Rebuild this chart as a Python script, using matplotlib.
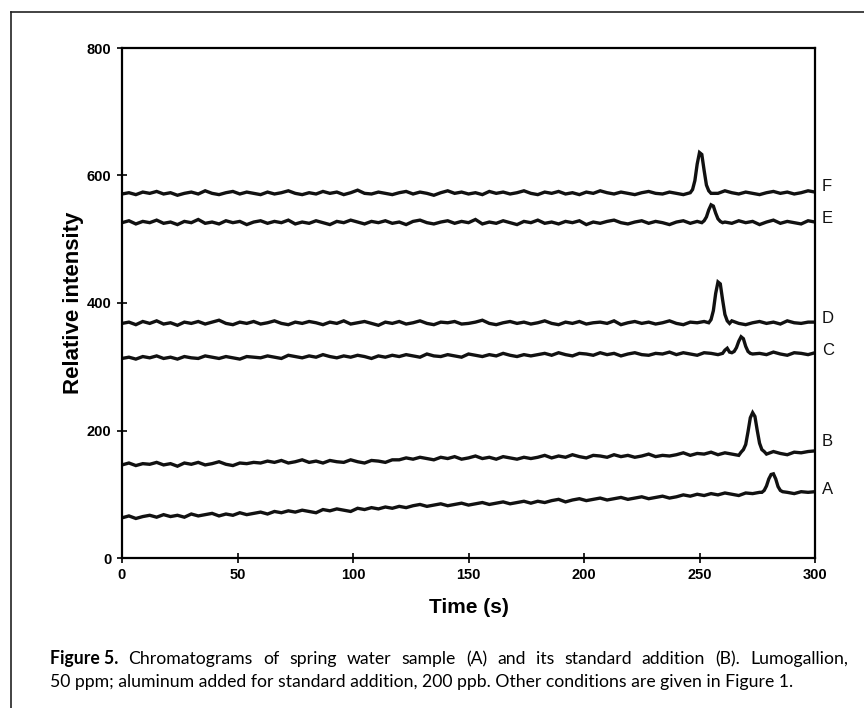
import numpy as np
import matplotlib
matplotlib.use("Agg")
import matplotlib.pyplot as plt
from matplotlib.lines import Line2D

# baseline readings every 3 s (0..300 s)
t_base = np.arange(0, 301, 3)

F_base = [571,573,570,574,572,575,571,573,569,572,574,571,576,572,570,573,575,571,574,572,
          570,574,571,573,576,572,570,573,571,575,572,574,570,573,577,572,571,574,572,570,
          573,575,571,574,572,569,573,576,572,574,571,573,570,575,572,574,571,573,576,572,
          570,574,572,575,571,573,570,574,572,576,573,571,574,572,570,573,575,572,571,574,
          572,570,573,575,571,574,572,576,573,571,574,572,570,573,575,572,574,571,573,576, 574]
E_base = [526,529,524,528,526,530,525,527,523,528,526,531,525,527,524,529,526,528,523,527,
          529,525,528,526,530,524,527,525,529,526,523,528,526,530,527,524,528,526,529,525,
          527,523,528,530,526,524,527,529,525,528,526,531,524,527,525,529,526,523,528,526,
          530,525,527,524,528,526,529,523,527,525,528,530,526,524,527,529,525,528,526,523,
          527,529,525,528,526,530,524,527,525,529,526,528,523,527,530,525,528,526,524,529, 527]
D_base = [368,370,366,371,368,372,367,369,365,370,368,371,367,370,373,368,366,370,368,371,
          367,369,372,368,366,370,368,371,369,366,370,368,372,367,369,371,368,365,370,368,
          371,367,369,372,368,366,370,369,371,367,368,370,373,368,366,369,371,368,370,367,
          369,372,368,366,370,368,371,367,369,370,368,372,366,369,371,368,370,367,369,372,
          368,366,370,369,371,367,368,370,372,368,366,369,371,368,370,367,372,369,368,370, 370]
C_base = [313,315,312,316,314,317,313,315,312,316,314,313,317,315,313,316,314,312,316,315,
          314,317,315,313,318,316,314,317,315,319,316,314,317,315,318,316,313,317,315,318,
          316,319,317,315,320,317,316,319,317,315,320,318,316,319,317,321,318,316,319,317,
          319,321,318,322,319,317,321,320,318,322,319,321,317,320,322,319,318,321,320,323,
          319,322,320,318,322,321,319,323,320,318,322,320,321,319,323,320,318,322,321,319, 322]
B_base = [146,149,145,148,147,150,146,148,144,149,147,150,146,148,151,147,145,149,148,150,
          149,152,150,153,149,151,154,150,152,149,153,151,150,154,151,149,153,152,150,154,
          154,157,155,158,156,154,158,156,159,155,157,160,156,158,155,159,157,155,158,156,
          158,161,157,160,158,162,159,157,161,160,158,162,159,161,158,160,163,159,161,160,
          162,165,161,164,163,166,162,165,163,161,165,164,166,163,167,164,162,166,165,167, 168]
A_base = [63,66,62,65,67,64,68,65,67,64,69,66,68,70,66,69,67,71,68,70,
          72,69,73,71,74,72,75,73,71,76,74,77,75,73,78,76,79,77,80,78,
          81,79,82,84,81,83,85,82,84,86,83,85,87,84,86,88,85,87,89,86,
          89,87,90,92,88,91,93,90,92,94,91,93,95,92,94,96,93,95,97,94,
          96,99,97,100,98,101,99,102,100,98,102,101,103,100,104,102,103,101,104,103, 104]

# peak regions, sampled every 1 s
F_pk_t = [246,247,248,249,250,251,252,253,254,255]
F_pk_y = [573,578,592,618,636,633,608,585,576,572]
E_pk_t = [251,252,253,254,255,256,257,258,259,260]
E_pk_y = [526,529,535,546,554,552,541,532,528,526]
D_pk_t = [254,255,256,257,258,259,260,261,262,263]
D_pk_y = [369,374,388,415,433,430,405,382,372,368]
C_pk_t = [260,261,262,263,264,265,266,267,268,269,270,271,272]
C_pk_y = [321,326,329,323,322,324,330,340,347,344,332,324,321]
B_pk_t = [268,269,270,271,272,273,274,275,276,277,278]
B_pk_y = [166,170,178,198,220,228,222,200,180,170,167]
A_pk_t = [277,278,279,280,281,282,283,284,285,286]
A_pk_y = [103,106,113,124,131,132,124,112,106,104]

labels = ["F", "E", "D", "C", "B", "A"]
label_y = [583, 532, 376, 325, 182, 107]

traces = [(F_base, F_pk_t, F_pk_y), (E_base, E_pk_t, E_pk_y), (D_base, D_pk_t, D_pk_y),
          (C_base, C_pk_t, C_pk_y), (B_base, B_pk_t, B_pk_y), (A_base, A_pk_t, A_pk_y)]

caption_bold = "Figure 5."
caption_1 = "Chromatograms of spring water sample (A) and its standard addition (B). Lumogallion,"
caption_2 = "50 ppm; aluminum added for standard addition, 200 ppb. Other conditions are given in Figure 1."


def merge(base, pk_t, pk_y):
    base = np.asarray(base, float)
    keep = (t_base < min(pk_t)) | (t_base > max(pk_t))
    t = np.concatenate([t_base[keep], pk_t])
    y = np.concatenate([base[keep], pk_y])
    order = np.argsort(t)
    return t[order], y[order]


plt.rcParams['font.family'] = ['Liberation Sans', 'DejaVu Sans']

W, H = 864, 708
fig = plt.figure(figsize=(W/100, H/100), dpi=100)
ax = fig.add_axes([122/W, 150/H, 693/W, 510/H])

for (base, pt, py), lab, ly in zip(traces, labels, label_y):
    t, y = merge(base, pt, py)
    ax.plot(t, y, color='#111111', lw=2.4, solid_joinstyle='miter')
    ax.text(303, ly, lab, fontsize=12, va='center', ha='left', color='#111111')

ax.set_xlim(0, 300)
ax.set_ylim(0, 800)
ax.set_xticks([0, 50, 100, 150, 200, 250, 300])
ax.set_yticks([0, 200, 400, 600, 800])
ax.tick_params(direction='inout', length=7, width=1.2, labelsize=10.5, pad=4)
for lbl in ax.get_xticklabels() + ax.get_yticklabels():
    lbl.set_fontweight('bold')
for s in ax.spines.values():
    s.set_linewidth(1.6)
ax.set_xlabel('Time (s)', fontsize=15, fontweight='bold', labelpad=11)
ax.set_ylabel('Relative intensity', fontsize=16, fontweight='bold', labelpad=2)

# outer frame of the figure panel
fig.add_artist(Line2D([11/W, 1.0], [1 - 12/H, 1 - 12/H], color='#222222', lw=1.2))
fig.add_artist(Line2D([11/W, 11/W], [0, 1 - 12/H], color='#222222', lw=1.2))

# caption (first line justified to the right edge)
cap_font = ['Lato', 'DejaVu Sans']
cap_size = 12.7
x_left, x_right = 50, 848
y1, y2 = 1 - 664/H, 1 - 687/H
r = fig.canvas.get_renderer()

words = [(caption_bold, 'bold')] + [(w, 'normal') for w in caption_1.split()]
arts = [fig.text(0, y1, w, fontsize=cap_size, fontweight=fw, family=cap_font, va='baseline')
        for w, fw in words]
widths = [a.get_window_extent(r).width for a in arts]
gap = (x_right - x_left - sum(widths)) / (len(arts) - 1)
x = x_left
for a, w in zip(arts, widths):
    a.set_x(x / W)
    x += w + gap

fig.text(x_left/W, y2, caption_2, fontsize=cap_size, family=cap_font, va='baseline')

fig.savefig('out.png', dpi=100)
